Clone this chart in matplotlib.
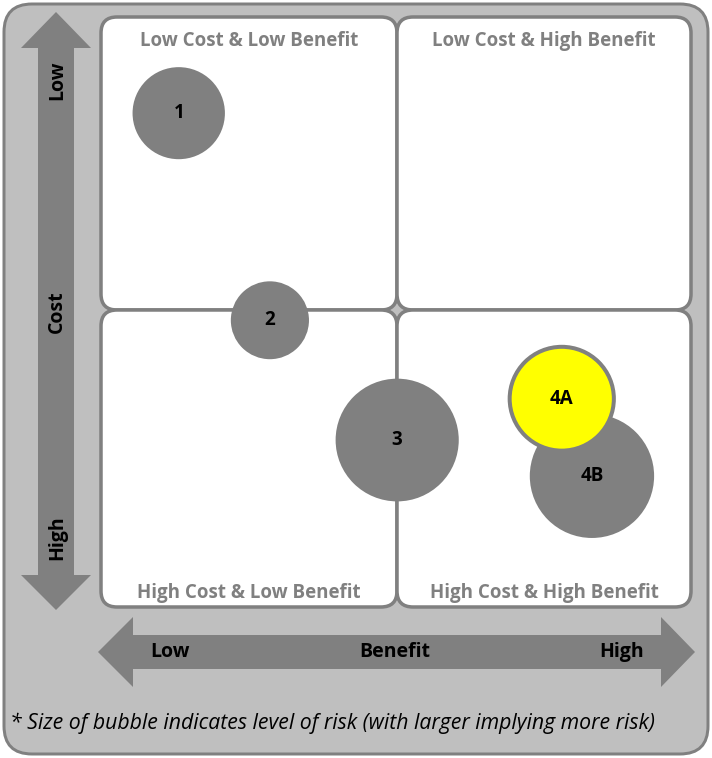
import numpy as np
import matplotlib
matplotlib.use("Agg")
import matplotlib.pyplot as plt
from matplotlib.patches import FancyBboxPatch, Polygon, Circle

# bubble data: benefit (0 low .. 10 high), cost (0 low .. 10 high), risk radius
labels = ["1", "2", "3", "4B", "4A"]
benefit = [1.33, 2.87, 5.02, 8.31, 7.80]
cost = [1.63, 5.14, 7.17, 7.78, 6.47]
risk = [0.78, 0.66, 1.04, 1.05, 0.88]
colors = ["#808080", "#808080", "#808080", "#808080", "#ffff00"]

quad_titles = ["Low Cost & Low Benefit", "Low Cost & High Benefit",
               "High Cost & Low Benefit", "High Cost & High Benefit"]
cost_labels = ["Low", "Cost", "High"]
benefit_labels = ["Low", "Benefit", "High"]
note = "* Size of bubble indicates level of risk (with larger implying more risk)"

plt.rcParams['font.family'] = ['Open Sans', 'DejaVu Sans']
GREY = "#808080"
LIGHT = "#bfbfbf"
px = 0.72  # one pixel in points at dpi 100

fig = plt.figure(figsize=(7.12, 7.58), dpi=100)
bg = fig.add_axes([0, 0, 1, 1])
bg.set_xlim(0, 712)
bg.set_ylim(758, 0)
bg.axis("off")

# outer frame
bg.add_patch(FancyBboxPatch((4, 4), 704, 750, boxstyle="round,pad=0,rounding_size=28",
                            fc=LIGHT, ec=GREY, lw=3 * px))

# quadrant boxes (they share their inner edges)
boxes = [(101, 17), (397, 17), (101, 310), (397, 310)]
sizes = [(296, 293), (294, 293), (296, 297), (294, 297)]
for (x0, y0), (w, h), t in zip(boxes, sizes, quad_titles):
    bg.add_patch(FancyBboxPatch((x0, y0), w, h, boxstyle="round,pad=0,rounding_size=16",
                                fc="white", ec=GREY, lw=3.5 * px))
    ty = y0 + 24 if y0 < 100 else y0 + 283
    bg.text(x0 + w / 2, ty, t, ha="center", va="center", color=GREY,
            fontsize=13.5, fontweight="bold")

# vertical cost arrow
cx = 56
vpts = [(cx, 12), (cx + 35, 48), (cx + 18, 48), (cx + 18, 575), (cx + 35, 575),
        (cx, 610), (cx - 35, 575), (cx - 18, 575), (cx - 18, 48), (cx - 35, 48)]
bg.add_patch(Polygon(vpts, closed=True, fc=GREY, ec="none"))
for y, t in zip([80, 312, 538], cost_labels):
    bg.text(cx + 1, y, t, rotation=90, ha="center", va="center", fontsize=14,
            fontweight="bold", color="black")

# horizontal benefit arrow
cy = 652
hpts = [(98, cy), (133, cy - 35), (133, cy - 17), (661, cy - 17), (661, cy - 35),
        (695, cy), (661, cy + 35), (661, cy + 17), (133, cy + 17), (133, cy + 35)]
bg.add_patch(Polygon(hpts, closed=True, fc=GREY, ec="none"))
for x, t in zip([170, 395, 622], benefit_labels):
    bg.text(x, cy, t, ha="center", va="center", fontsize=14,
            fontweight="bold", color="black")

bg.text(10, 723, note, ha="left", va="center", fontsize=15.3, style="italic", color="black")

# bubble axes over the quadrant area
ax = fig.add_axes([100 / 712, (758 - 607) / 758, 592 / 712, 590 / 758])
ax.set_xlim(0, 10)
ax.set_ylim(10, 0)
ax.axis("off")
ax.patch.set_alpha(0)
for lab, b, c, r, col in zip(labels, benefit, cost, risk, colors):
    ec = GREY if col != GREY else "none"
    ax.add_patch(Circle((b, c), r, fc=col, ec=ec, lw=4 * px))
    ax.text(b, c, lab, ha="center", va="center", fontsize=13.5, fontweight="bold", color="black")

fig.savefig("out.png", dpi=100)
